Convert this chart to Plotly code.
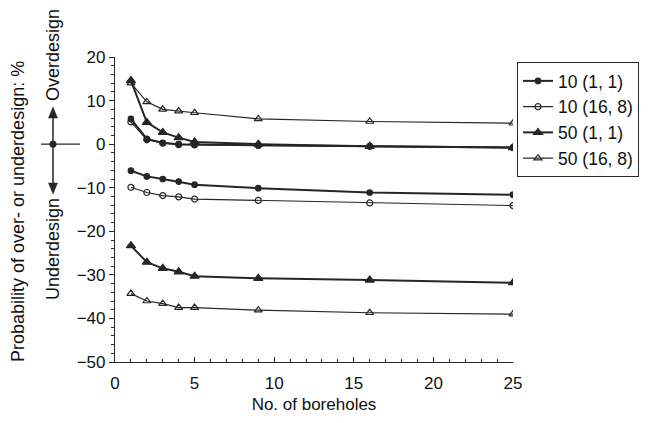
import plotly.graph_objects as go

# Number of boreholes sampled
boreholes = [1, 2, 3, 4, 5, 9, 16, 25]

# Probability of overdesign (%), per case
over_10_1_1 = [5.8, 1.2, 0.3, 0.0, -0.1, -0.3, -0.5, -0.8]
over_10_16_8 = [5.1, 1.0, 0.2, -0.1, -0.2, -0.3, -0.5, -0.8]
over_50_1_1 = [14.6, 5.0, 2.7, 1.5, 0.5, 0.0, -0.5, -0.8]
over_50_16_8 = [14.0, 9.7, 8.0, 7.6, 7.2, 5.8, 5.2, 4.8]

# Probability of underdesign (%), plotted as negative values
under_10_1_1 = [-6.1, -7.4, -8.0, -8.6, -9.3, -10.1, -11.1, -11.6]
under_10_16_8 = [-9.9, -11.1, -11.8, -12.1, -12.6, -12.9, -13.5, -14.1]
under_50_1_1 = [-23.3, -27.1, -28.5, -29.3, -30.3, -30.8, -31.2, -31.8]
under_50_16_8 = [-34.3, -36.0, -36.6, -37.5, -37.5, -38.1, -38.7, -39.0]

case_names = ["10 (1, 1)", "10 (16, 8)", "50 (1, 1)", "50 (16, 8)"]

INK = "#262626"
FONT = "Liberation Sans, Arial, Helvetica, sans-serif"

W, H = 657, 423
M_L, M_R, M_T, M_B = 115, 144, 57, 61
PW, PH = W - M_L - M_R, H - M_T - M_B


def px(x):
    return (x - M_L) / PW


def py(y):
    return (H - M_B - y) / PH


styles = [
    dict(symbol="circle", size=5.5, width=2.0),
    dict(symbol="circle-open", size=6, width=1.2),
    dict(symbol="triangle-up", size=8, width=2.0),
    dict(symbol="triangle-up-open", size=7, width=1.2),
]
over_sets = [over_10_1_1, over_10_16_8, over_50_1_1, over_50_16_8]
under_sets = [under_10_1_1, under_10_16_8, under_50_1_1, under_50_16_8]

fig = go.Figure()
for name, st, over, under in zip(case_names, styles, over_sets, under_sets):
    for vals, show in ((over, True), (under, False)):
        fig.add_trace(go.Scatter(
            x=boreholes, y=vals, name=name, legendgroup=name, showlegend=show,
            mode="lines+markers",
            line=dict(color=INK, width=st["width"]),
            marker=dict(symbol=st["symbol"], size=st["size"], color=INK,
                        line=dict(color=INK, width=1.2)),
        ))

tick_font = dict(family=FONT, size=17, color="#111")

fig.update_layout(
    width=W, height=H,
    margin=dict(l=M_L, r=M_R, t=M_T, b=M_B),
    paper_bgcolor="white", plot_bgcolor="white",
    font=dict(family=FONT, color="#111"),
    xaxis=dict(
        range=[0, 25], dtick=5, tick0=0, showgrid=False, zeroline=False,
        showline=True, linecolor=INK, linewidth=1.2,
        ticks="inside", ticklen=5, tickcolor=INK, ticklabelstandoff=5,
        minor=dict(dtick=1, ticks="inside", ticklen=3, tickcolor=INK, showgrid=False),
        tickfont=tick_font,
        title=dict(text="No. of boreholes", font=dict(family=FONT, size=17), standoff=6),
    ),
    yaxis=dict(
        range=[-50, 20], dtick=10, tick0=0, showgrid=False, zeroline=False,
        showline=True, linecolor=INK, linewidth=1.2,
        ticks="outside", ticklen=5, tickcolor=INK,
        minor=dict(dtick=2, ticks="outside", ticklen=3, tickcolor=INK, showgrid=False),
        tickfont=tick_font,
    ),
    legend=dict(
        x=px(517), y=py(62), xanchor="left", yanchor="top",
        bordercolor=INK, borderwidth=1, bgcolor="white",
        font=dict(family=FONT, size=17.5, color="#111"),
        tracegroupgap=0,
    ),
    showlegend=True,
)

# Rotated labels on the left
side_font = dict(family=FONT, size=18, color="#111")
for label, xc, yc in (("Probability of over- or underdesign: %", 18, 212),
                      ("Overdesign", 53, 55),
                      ("Underdesign", 53, 249)):
    fig.add_annotation(text=label, textangle=-90,
                       xref="paper", yref="paper", x=px(xc), y=py(yc),
                       xanchor="center", yanchor="middle",
                       showarrow=False, font=side_font)

# Double-headed direction marker with a dot at zero
ax_x = 53
fig.add_shape(type="line", xref="paper", yref="paper",
              x0=px(ax_x), x1=px(ax_x), y0=py(112), y1=py(189),
              line=dict(color=INK, width=1.5))
fig.add_shape(type="line", xref="paper", yref="y",
              x0=px(41), x1=px(80), y0=0, y1=0,
              line=dict(color=INK, width=1.3))
fig.add_shape(type="circle", xref="paper", yref="y",
              x0=px(ax_x - 3.5), x1=px(ax_x + 3.5), y0=-0.8, y1=0.8,
              fillcolor=INK, line=dict(color=INK, width=0))
up_tip, dn_tip, head_h, head_w = 107, 194, 11, 4.5
fig.add_shape(type="path", xref="paper", yref="paper",
              path=(f"M {px(ax_x)} {py(up_tip)} L {px(ax_x - head_w)} {py(up_tip + head_h)} "
                    f"L {px(ax_x + head_w)} {py(up_tip + head_h)} Z"),
              fillcolor=INK, line=dict(color=INK, width=0.5))
fig.add_shape(type="path", xref="paper", yref="paper",
              path=(f"M {px(ax_x)} {py(dn_tip)} L {px(ax_x - head_w)} {py(dn_tip - head_h)} "
                    f"L {px(ax_x + head_w)} {py(dn_tip - head_h)} Z"),
              fillcolor=INK, line=dict(color=INK, width=0.5))

fig.write_html("out.html")
